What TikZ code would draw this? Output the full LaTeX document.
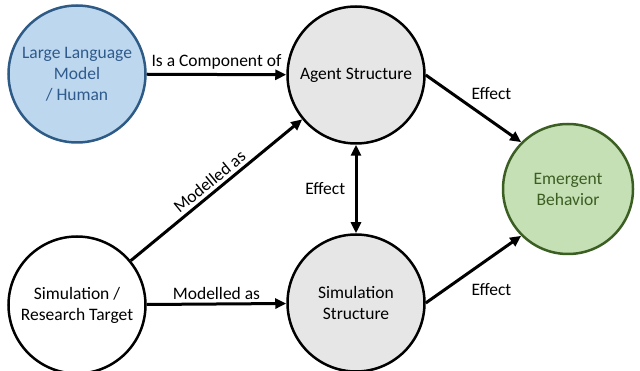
\documentclass[tikz,border=0pt]{standalone}
\usepackage{fontspec}
\setmainfont{Carlito}
\usetikzlibrary{arrows.meta}
\definecolor{llmFill}{HTML}{BDD7EE}
\definecolor{llmLine}{HTML}{2E5A86}
\definecolor{llmText}{HTML}{2F5A8C}
\definecolor{emgFill}{HTML}{C5E0B4}
\definecolor{emgLine}{HTML}{3B5E23}
\definecolor{emgText}{HTML}{3B5E23}
\definecolor{strFill}{HTML}{E6E6E6}

\begin{document}
\begin{tikzpicture}[x=1pt,y=-1pt,
  every node/.style={font=\fontsize{17.5}{21}\selectfont},
  circ/.style={circle,draw,line width=2.5pt,minimum size=137pt,inner sep=0pt,align=center},
  link/.style={line width=3pt,-{Triangle[length=11pt,width=10pt]}}]
  \useasboundingbox (0,0) rectangle (640,371);

  \node[circ,fill=llmFill,draw=llmLine,text=llmText] (llm) at (77,74) {Large Language\\Model\\/ Human};
  \node[circ,fill=strFill] (agent) at (356,75) {Agent Structure};
  \node[circ,fill=emgFill,draw=emgLine,text=emgText,minimum size=130pt] (emergent) at (568,189) {Emergent\\Behavior};
  \node[circ] (target) at (77,305) {Simulation /\\Research Target};
  \node[circ,fill=strFill] (simstruct) at (356,303) {Simulation\\Structure};

  \draw[link] (llm) -- node[above] {Is a Component of} (agent);
  \draw[link] (target) -- node[above,sloped] {Modelled as} (agent);
  \draw[link] (target) -- node[above] {Modelled as} (simstruct);
  \draw[link,{Triangle[length=11pt,width=10pt]}-{Triangle[length=11pt,width=10pt]}] (agent) -- node[left,xshift=-6pt] {Effect} (simstruct);
  \draw[link] (agent.east) -- node[above,xshift=18pt,yshift=4pt] {Effect} (emergent.135);
  \draw[link] (simstruct.east) -- node[below,xshift=18pt,yshift=-9pt] {Effect} (emergent.225);
\end{tikzpicture}
\end{document}
